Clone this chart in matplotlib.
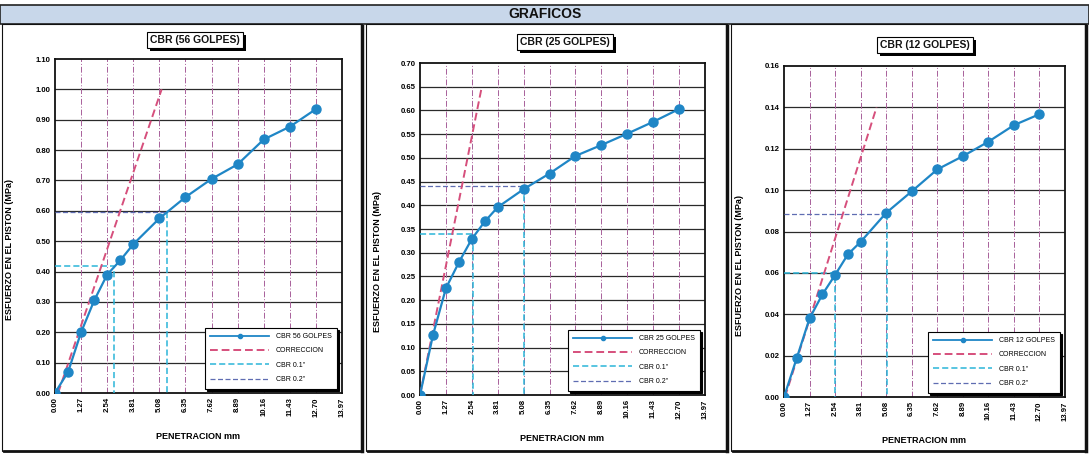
import matplotlib
matplotlib.use("Agg")
import matplotlib.pyplot as plt
import matplotlib.patches as mpatches
import matplotlib.patheffects as pe
from matplotlib.lines import Line2D
import numpy as np

W, H = 1089, 454

# penetration (mm) and x ticks
pen = [0.00, 0.64, 1.27, 1.91, 2.54, 3.18, 3.81, 5.08, 6.35, 7.62, 8.89, 10.16, 11.43, 12.70]
xticks = [0.00, 1.27, 2.54, 3.81, 5.08, 6.35, 7.62, 8.89, 10.16, 11.43, 12.70, 13.97]

# stresses (MPa) per compaction
load_56 = [0, 0.07, 0.20, 0.305, 0.39, 0.437, 0.49, 0.575, 0.645, 0.705, 0.753, 0.835, 0.877, 0.935]
load_25 = [0, 0.127, 0.225, 0.28, 0.329, 0.366, 0.396, 0.434, 0.467, 0.504, 0.527, 0.551, 0.576, 0.603]
load_12 = [0, 0.019, 0.038, 0.0496, 0.059, 0.069, 0.075, 0.089, 0.0994, 0.110, 0.1164, 0.1234, 0.1314, 0.1367]

# correction lines (x pair, y pair)
corr_56 = ([0.15, 5.19], [0.0, 1.00])
corr_25 = ([0.00, 3.03], [0.0, 0.65])
corr_12 = ([0.05, 4.60], [0.0, 0.14])

# CBR 0.1" and 0.2" reading points (x, y)
cbr01_56, cbr02_56 = (2.86, 0.419), (5.43, 0.595)
cbr01_25, cbr02_25 = (2.58, 0.34), (5.12, 0.44)
cbr01_12, cbr02_12 = (2.54, 0.060), (5.10, 0.0885)

BLUE = "#1f86c6"
PINK = "#d64f7c"
CYAN = "#2bb5d8"
PURP = "#5f6db2"
VGRID = "#a8609a"

plt.rcParams["font.family"] = "Liberation Sans"

fig = plt.figure(figsize=(W / 100, H / 100), dpi=100)
fig.patch.set_facecolor("white")


def fx(px):
    return px / W


def fy(py):
    return 1 - py / H


def add_rect(x0, y0, x1, y1, **kw):
    r = mpatches.Rectangle((fx(x0), fy(y1)), fx(x1) - fx(x0), fy(y0) - fy(y1),
                           transform=fig.transFigure, **kw)
    fig.add_artist(r)
    return r


# header bar
add_rect(0, 5, W, 24, facecolor="#c8d7ea", edgecolor="#222222", linewidth=1.2, zorder=1)
fig.text(fx(545), fy(14.5), "GRAFICOS", ha="center", va="center",
         fontsize=10, fontweight="bold", color="#111111")

# panel frames
for x0, x1 in [(2, 362), (366, 727), (731, 1086)]:
    add_rect(x0, 24, x1, 451, facecolor="none", edgecolor="#111111", linewidth=0.8, zorder=1)
    fig.add_artist(Line2D([fx(x1), fx(x1)], [fy(26), fy(451)], transform=fig.transFigure,
                          color="#111111", linewidth=2.5))
    fig.add_artist(Line2D([fx(x0 + 2), fx(x1)], [fy(451), fy(451)], transform=fig.transFigure,
                          color="#111111", linewidth=2.0))


def title_box(cx, cy, text):
    t = fig.text(fx(cx), fy(cy), text, ha="center", va="center", fontsize=7.5,
                 fontweight="bold", color="#111111",
                 bbox=dict(boxstyle="square,pad=0.3", facecolor="white", edgecolor="black",
                           linewidth=0.8))
    t.get_bbox_patch().set_path_effects([
        pe.SimplePatchShadow(offset=(2, -2), shadow_rgbFace="black", alpha=1),
        pe.Normal()])


def panel(box, loads, ymax, ystep, corr, c01, c02, label, ylab_x, ylab_y):
    left, right, top, bottom = box
    ax = fig.add_axes([fx(left), fy(bottom), fx(right) - fx(left), fy(top) - fy(bottom)])
    ax.set_xlim(0, 13.97)
    ax.set_ylim(0, ymax)
    yt = np.round(np.arange(0, ymax + ystep / 2, ystep), 4)
    ax.set_yticks(yt)
    ax.set_yticklabels([f"{v:.2f}" for v in yt], fontsize=5.6, fontweight="bold")
    ax.set_xticks(xticks)
    ax.set_xticklabels([f"{v:.2f}" for v in xticks], rotation=90, fontsize=5.6, fontweight="bold")
    ax.tick_params(length=0, pad=3)
    for v in yt[1:-1]:
        ax.axhline(v, color="#2a2a2a", linewidth=0.9, zorder=1)
    for v in xticks[1:-1]:
        ax.axvline(v, color=VGRID, linewidth=0.7, linestyle=(0, (6, 2, 1, 2)), zorder=1)
    for s in ax.spines.values():
        s.set_linewidth(1.3)
        s.set_color("#111111")

    ax.plot(pen, loads, color=BLUE, linewidth=1.6, marker="o", markersize=6.5,
            label=label, zorder=5)
    ax.plot(corr[0], corr[1], color=PINK, linewidth=1.4, linestyle=(0, (4, 2)),
            label="CORRECCION", zorder=4)
    ax.plot([0, c01[0], c01[0]], [c01[1], c01[1], 0], color=CYAN, linewidth=1.1,
            linestyle=(0, (4, 2)), label='CBR 0.1"', zorder=3)
    ax.plot([0, c02[0]], [c02[1], c02[1]], color=PURP, linewidth=0.9,
            linestyle=(0, (4, 2)), label='CBR 0.2"', zorder=3)
    ax.plot([c02[0], c02[0]], [c02[1], 0], color=CYAN, linewidth=1.1,
            linestyle=(0, (4, 2)), zorder=3)

    handles, labels = ax.get_legend_handles_labels()
    handles[0] = Line2D([], [], color=BLUE, linewidth=1.3, marker="o", markersize=3)
    leg = ax.legend(handles, labels, loc="lower right", bbox_to_anchor=(0.995, 0.003),
                    fontsize=5, handlelength=8.5, labelspacing=1.05, borderpad=0.8,
                    handletextpad=0.9, fancybox=False, framealpha=1,
                    edgecolor="black",
                    shadow={"ox": 1.6, "oy": -1.6, "facecolor": "black",
                            "edgecolor": "black", "alpha": 1})
    leg.get_frame().set_linewidth(0.8)
    leg.set_zorder(10)

    ax.set_xlabel("PENETRACION mm", fontsize=6.5, fontweight="bold", labelpad=11)
    fig.text(fx(ylab_x), fy(ylab_y), "ESFUERZO EN EL PISTON (MPa)", rotation=90,
             ha="center", va="center", fontsize=6.5, fontweight="bold")
    return ax


panel((55, 342, 59, 393), load_56, 1.10, 0.10, corr_56, cbr01_56, cbr02_56,
      "CBR 56 GOLPES", 10, 250)
panel((420, 705, 63, 395), load_25, 0.70, 0.05, corr_25, cbr01_25, cbr02_25,
      "CBR 25 GOLPES", 377, 262)
panel((784, 1065, 66, 397), load_12, 0.16, 0.02, corr_12, cbr01_12, cbr02_12,
      "CBR 12 GOLPES", 740, 265)

title_box(195, 40, "CBR (56 GOLPES)")
title_box(565, 42, "CBR (25 GOLPES)")
title_box(925, 45, "CBR (12 GOLPES)")

fig.savefig("out.png", dpi=100, facecolor="white")
